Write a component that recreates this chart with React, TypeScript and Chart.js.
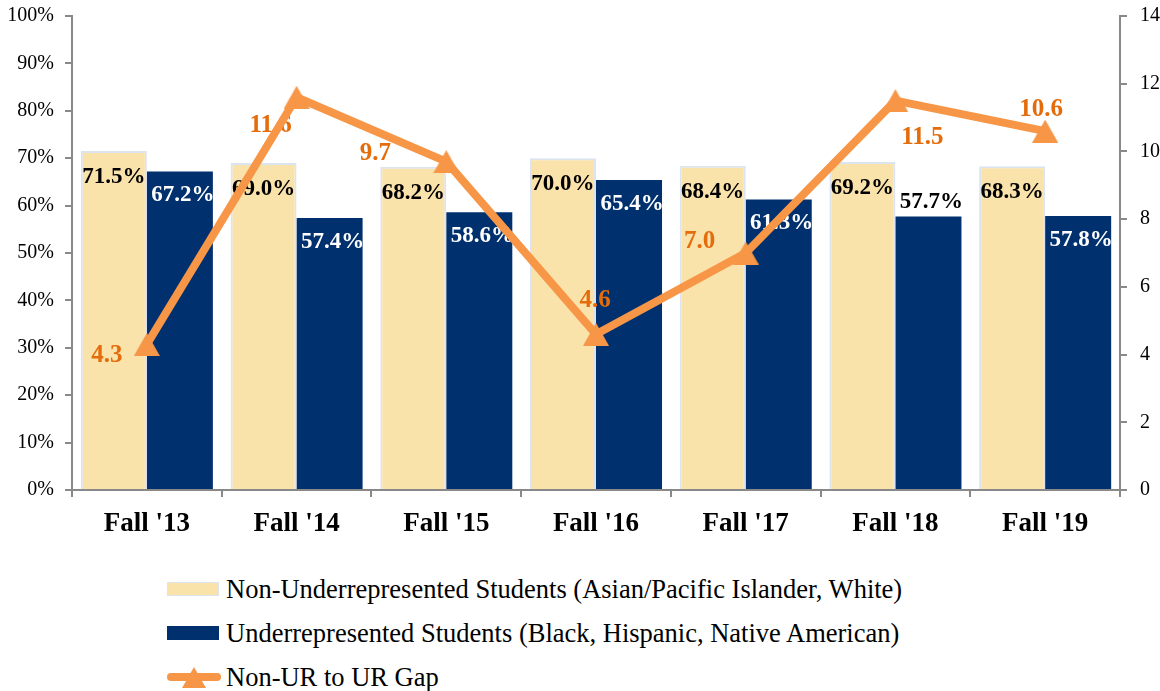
import React, { useEffect, useRef } from 'react';
import { Chart, registerables } from 'chart.js';
Chart.register(...registerables);

const categories = ["Fall '13", "Fall '14", "Fall '15", "Fall '16", "Fall '17", "Fall '18", "Fall '19"];
const nonURValues = [71.5, 69.0, 68.2, 70.0, 68.4, 69.2, 68.3];
const urValues = [67.2, 57.4, 58.6, 65.4, 61.3, 57.7, 57.8];
const gapValues = [4.3, 11.6, 9.7, 4.6, 7.0, 11.5, 10.6];
const seriesNames = [
  'Non-Underrepresented Students (Asian/Pacific Islander, White)',
  'Underrepresented Students (Black, Hispanic, Native American)',
  'Non-UR to UR Gap',
];

// label placement (style)
const gapLabelOffsets = [[-40, 11], [-26, 28], [-71, -8], [-1, -34], [-46, -11], [27, 37], [-4, -22]];
const urLabelAbove = [false, false, false, false, false, true, false];

const BEIGE = '#FAE2AB';
const BEIGE_BORDER = '#DCE4F0';
const NAVY = '#00306E';
const ORANGE = '#F79646';
const ORANGE_TEXT = '#E46C0A';
const AXIS = '#898989';
const FONT = "'Liberation Serif', 'Times New Roman', serif";

function makeTriangle(): HTMLCanvasElement {
  const c = document.createElement('canvas');
  c.width = 26;
  c.height = 23;
  const g = c.getContext('2d')!;
  g.fillStyle = ORANGE;
  g.beginPath();
  g.moveTo(13, 0);
  g.lineTo(26, 23);
  g.lineTo(0, 23);
  g.closePath();
  g.fill();
  return c;
}

const labelPlugin = {
  id: 'customLabels',
  beforeDatasetDraw(chart: any, args: any) {
    if (args.index !== 2) return;
    const ctx = chart.ctx;
    ctx.save();
    ctx.textAlign = 'center';
    ctx.textBaseline = 'middle';
    ctx.font = `bold 23px ${FONT}`;
    const m0 = chart.getDatasetMeta(0);
    m0.data.forEach((bar: any, i: number) => {
      ctx.fillStyle = '#000';
      ctx.fillText(nonURValues[i].toFixed(1) + '%', bar.x, bar.y + 26);
    });
    const m1 = chart.getDatasetMeta(1);
    m1.data.forEach((bar: any, i: number) => {
      const above = urLabelAbove[i];
      ctx.fillStyle = above ? '#000' : '#fff';
      ctx.fillText(urValues[i].toFixed(1) + '%', bar.x + 3, above ? bar.y - 14 : bar.y + 24);
    });
    ctx.font = `bold 25px ${FONT}`;
    ctx.fillStyle = ORANGE_TEXT;
    const m2 = chart.getDatasetMeta(2);
    m2.data.forEach((pt: any, i: number) => {
      const o = gapLabelOffsets[i];
      ctx.fillText(gapValues[i].toFixed(1), pt.x + o[0], pt.y + o[1]);
    });
    ctx.restore();
  },
};

export default function App() {
  const ref = useRef<HTMLCanvasElement>(null);
  useEffect(() => {
    if (!ref.current) return;
    const tri = makeTriangle();
    const chart = new Chart(ref.current, {
      type: 'bar',
      data: {
        labels: categories,
        datasets: [
          {
            type: 'bar',
            label: seriesNames[0],
            data: nonURValues,
            backgroundColor: BEIGE,
            borderColor: BEIGE_BORDER,
            borderWidth: 2,
            yAxisID: 'y',
            order: 1,
            categoryPercentage: 0.882,
            barPercentage: 1,
          },
          {
            type: 'bar',
            label: seriesNames[1],
            data: urValues,
            backgroundColor: NAVY,
            borderWidth: 0,
            yAxisID: 'y',
            order: 1,
            categoryPercentage: 0.882,
            barPercentage: 1,
          },
          {
            type: 'line',
            label: seriesNames[2],
            data: gapValues,
            borderColor: ORANGE,
            backgroundColor: ORANGE,
            borderWidth: 8,
            borderJoinStyle: 'round',
            borderCapStyle: 'round',
            pointStyle: tri as any,
            pointRadius: 13,
            yAxisID: 'y1',
            order: 0,
            tension: 0,
          } as any,
        ],
      },
      options: {
        animation: false,
        responsive: false,
        devicePixelRatio: 1,
        layout: { padding: { top: 6, left: 0, right: 0, bottom: 0 } },
        plugins: {
          legend: { display: false },
          tooltip: { enabled: false },
        },
        scales: {
          x: {
            offset: true,
            grid: { display: true, drawOnChartArea: false, drawTicks: true, tickLength: 7, color: AXIS, lineWidth: 2, offset: true },
            border: { display: true, color: AXIS, width: 2 },
            ticks: { color: '#000', font: { family: FONT, size: 27, weight: 'bold' }, padding: 11, maxRotation: 0 },
            afterFit: (s: any) => { s.height = 70; },
          },
          y: {
            position: 'left',
            min: 0,
            max: 100,
            ticks: { stepSize: 10, color: '#000', font: { family: FONT, size: 20 }, padding: 11, callback: (v: any) => v + '%' },
            grid: { display: true, drawOnChartArea: false, drawTicks: true, tickLength: 7, color: AXIS, lineWidth: 2 },
            border: { display: true, color: AXIS, width: 2 },
            afterFit: (s: any) => { s.width = 72; },
          },
          y1: {
            position: 'right',
            min: 0,
            max: 14,
            ticks: { stepSize: 2, color: '#000', font: { family: FONT, size: 20 }, padding: 13 },
            grid: { display: true, drawOnChartArea: false, drawTicks: true, tickLength: 7, color: AXIS, lineWidth: 2 },
            border: { display: true, color: AXIS, width: 2 },
            afterFit: (s: any) => { s.width = 40; },
          },
        },
      } as any,
      plugins: [labelPlugin],
    });
    return () => chart.destroy();
  }, []);

  const rowStyle: React.CSSProperties = {
    position: 'absolute',
    left: 167,
    height: 30,
    display: 'flex',
    alignItems: 'center',
    fontFamily: FONT,
    fontSize: 26.5,
    color: '#000',
    whiteSpace: 'nowrap',
  };

  return (
    <div style={{ position: 'absolute', left: 0, top: 0, width: 1160, height: 691, background: '#fff', overflow: 'hidden' }}>
      <canvas ref={ref} width={1160} height={569} style={{ position: 'absolute', left: 0, top: -9, width: 1160, height: 569 }} />
      <div style={{ ...rowStyle, top: 574 }}>
        <span style={{ display: 'inline-block', width: 50, height: 12, background: BEIGE, border: `1px solid ${BEIGE_BORDER}`, marginRight: 7 }} />
        <span>{seriesNames[0]}</span>
      </div>
      <div style={{ ...rowStyle, top: 618 }}>
        <span style={{ display: 'inline-block', width: 52, height: 14, background: NAVY, marginRight: 7 }} />
        <span>{seriesNames[1]}</span>
      </div>
      <div style={{ ...rowStyle, top: 662 }}>
        <svg width={54} height={24} style={{ marginRight: 5 }}>
          <line x1={4} y1={12} x2={50} y2={12} stroke={ORANGE} strokeWidth={8} strokeLinecap="round" />
          <polygon points="27,2 39,23 15,23" fill={ORANGE} />
        </svg>
        <span>{seriesNames[2]}</span>
      </div>
    </div>
  );
}
